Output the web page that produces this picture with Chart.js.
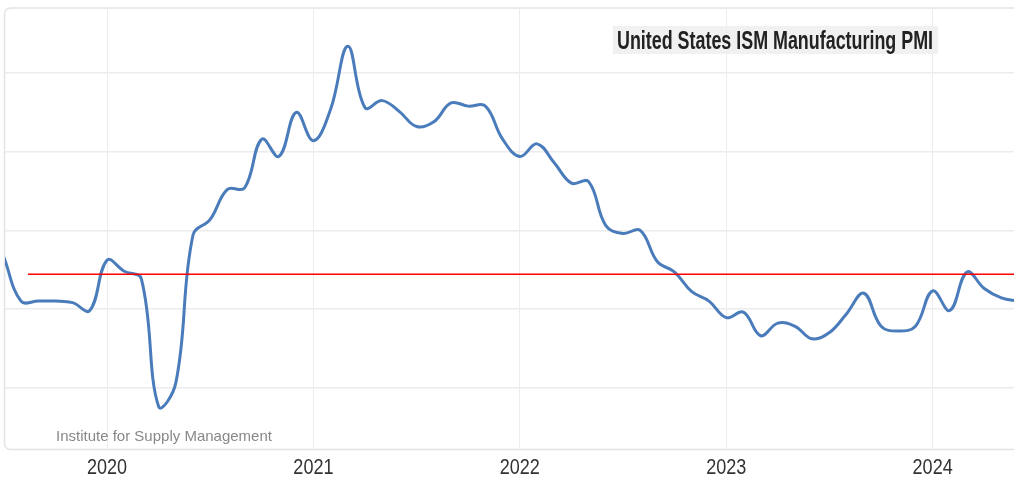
<!DOCTYPE html>
<html>
<head>
<meta charset="utf-8">
<script src="https://cdn.jsdelivr.net/npm/chart.js@4/dist/chart.umd.min.js"></script>
<style>
  html, body { margin: 0; padding: 0; background: #fff; }
  #wrap { width: 1014px; height: 479px; position: relative; }
</style>
</head>
<body>
<div id="wrap"><canvas id="pmiChart"></canvas></div>
<script>
// ISM Manufacturing PMI, monthly, Jul 2019 - Jun 2024
const months = [
    'Jul 2019', 'Aug 2019', 'Sep 2019', 'Oct 2019', 'Nov 2019', 'Dec 2019',
    'Jan 2020', 'Feb 2020', 'Mar 2020', 'Apr 2020', 'May 2020', 'Jun 2020',
    'Jul 2020', 'Aug 2020', 'Sep 2020', 'Oct 2020', 'Nov 2020', 'Dec 2020',
    'Jan 2021', 'Feb 2021', 'Mar 2021', 'Apr 2021', 'May 2021', 'Jun 2021',
    'Jul 2021', 'Aug 2021', 'Sep 2021', 'Oct 2021', 'Nov 2021', 'Dec 2021',
    'Jan 2022', 'Feb 2022', 'Mar 2022', 'Apr 2022', 'May 2022', 'Jun 2022',
    'Jul 2022', 'Aug 2022', 'Sep 2022', 'Oct 2022', 'Nov 2022', 'Dec 2022',
    'Jan 2023', 'Feb 2023', 'Mar 2023', 'Apr 2023', 'May 2023', 'Jun 2023',
    'Jul 2023', 'Aug 2023', 'Sep 2023', 'Oct 2023', 'Nov 2023', 'Dec 2023',
    'Jan 2024', 'Feb 2024', 'Mar 2024', 'Apr 2024', 'May 2024', 'Jun 2024'
];
const pmi = [
    51.0, 48.2, 48.2, 48.2, 48.1, 47.6,
    50.8, 50.1, 49.6, 41.5, 43.0, 52.4,
    53.4, 55.3, 55.4, 58.5, 57.4, 60.2,
    58.4, 60.4, 64.4, 60.5, 60.95, 60.25,
    59.3, 59.6, 60.8, 60.6, 60.6, 58.5,
    57.4, 58.2, 57.0, 55.7, 55.8, 53.0,
    52.5, 52.7, 50.7, 50.05, 48.8, 48.2,
    47.15, 47.5, 46.0, 46.8, 46.6, 45.8,
    46.2, 47.4, 48.7, 46.6, 46.3, 46.6,
    48.85, 47.6, 50.05, 49.0, 48.4, 48.2
];
const yearLabels = ['2020', '2021', '2022', '2023', '2024'];
const yearTicks = [0, 12, 24, 36, 48];     // month offsets from Jan 2020
const gridValues = [42.7, 47.7, 52.7, 57.7, 62.7];
const thresholdValue = 49.9;
const firstMonth = -6;                      // Jul 2019

const titleText = 'United States ISM Manufacturing PMI';
const sourceText = 'Institute for Supply Management';

const sans = '"Liberation Sans", Arial, sans-serif';

const series = pmi.map((v, i) => ({ x: firstMonth + i, y: v }));

// draw text squeezed horizontally (the original uses a narrow face)
function narrowText(c, text, x, y, squeeze, align) {
    const w = c.measureText(text).width * squeeze;
    c.save();
    c.translate(align === 'center' ? x - w / 2 : x, y);
    c.scale(squeeze, 1);
    c.fillText(text, 0, 0);
    c.restore();
}

// Frame, title box, year labels and source caption
const decor = {
    id: 'decor',
    beforeDraw(chart) {
        const c = chart.ctx;
        const a = chart.chartArea;
        c.save();
        c.strokeStyle = '#e4e4e4';
        c.lineWidth = 1.5;
        c.beginPath();
        c.roundRect(a.left - 0.5, a.top, a.right - a.left + 20, a.bottom - a.top + 1, 6);
        c.stroke();
        c.restore();
    },
    afterDraw(chart) {
        const c = chart.ctx;
        const xs = chart.scales.x;
        c.save();
        // title
        c.font = 'bold 25px ' + sans;
        const w = c.measureText(titleText).width;
        c.fillStyle = 'rgba(238,238,238,0.85)';
        c.fillRect(613, 26, 325, 28);
        c.fillStyle = '#222';
        c.textBaseline = 'alphabetic';
        narrowText(c, titleText, 617, 49, 316 / w, 'left');

        // year labels at the axis tick positions
        c.font = '22px ' + sans;
        c.fillStyle = '#333';
        yearTicks.forEach((v, i) => {
            narrowText(c, yearLabels[i], xs.getPixelForValue(v), 474, 0.82, 'center');
        });

        // source
        c.font = '15px ' + sans;
        c.fillStyle = '#888';
        c.fillText(sourceText, 56, 441);
        c.restore();
    }
};

const ctx = document.getElementById('pmiChart').getContext('2d');
const pmiChart = new Chart(ctx, {
    type: 'line',
    data: {
        datasets: [{
            label: 'ISM Manufacturing PMI',
            data: series,
            borderColor: '#4a7cbb',
            borderWidth: 3,
            tension: 0.4,
            pointRadius: 0,
            fill: false,
            order: 2
        }, {
            label: '50 line',
            data: [{ x: -4.6, y: thresholdValue }, { x: 52.73, y: thresholdValue }],
            borderColor: '#ff0000',
            borderWidth: 1.5,
            pointRadius: 0,
            tension: 0,
            order: 1
        }]
    },
    options: {
        responsive: true,
        maintainAspectRatio: false,
        animation: false,
        layout: { padding: { left: 5, right: 0, top: 8, bottom: 0 } },
        plugins: {
            legend: { display: false },
            tooltip: { enabled: false }
        },
        scales: {
            x: {
                type: 'linear',
                min: -5.93,
                max: 52.73,
                afterBuildTicks: axis => { axis.ticks = yearTicks.map(v => ({ value: v })); },
                ticks: {
                    // labels are painted by the decor plugin; keep the space
                    callback: v => yearLabels[yearTicks.indexOf(v)],
                    color: 'rgba(0,0,0,0)',
                    font: { family: sans, size: 22 },
                    padding: 2,
                    maxRotation: 0,
                    autoSkip: false
                },
                grid: { color: '#ececec', lineWidth: 1, drawTicks: false },
                border: { display: false }
            },
            y: {
                min: 38.82,
                max: 66.84,
                afterBuildTicks: axis => { axis.ticks = gridValues.map(v => ({ value: v })); },
                ticks: { display: false },
                grid: { color: '#ececec', lineWidth: 1.5, drawTicks: false },
                border: { display: false }
            }
        }
    },
    plugins: [decor]
});
</script>
</body>
</html>
